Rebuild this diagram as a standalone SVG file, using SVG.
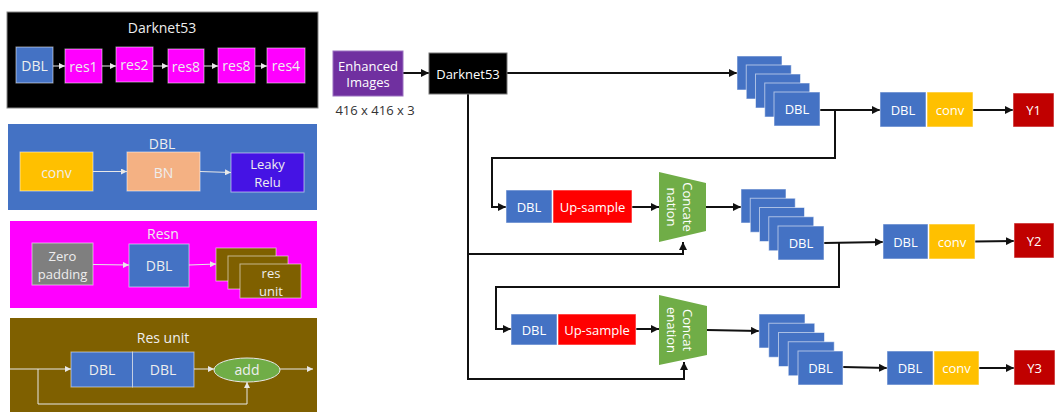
<svg xmlns="http://www.w3.org/2000/svg" width="1055" height="412" viewBox="0 0 1055 412">
  <defs>
    <style>
      text { font-family: "Open Sans", "Liberation Sans", sans-serif; font-size: 13px; fill: #ffffff; text-anchor: middle; dominant-baseline: central; }
      .title { font-size: 14px; fill: #eeeeee; }
      .panel-txt { font-size: 14px; fill: #eeeeee; }
      .panel-2l { font-size: 13px; fill: #eeeeee; }
      .dim { fill: #333333; font-size: 13px; }
      .box { stroke: #ffffff; stroke-opacity: 0.55; stroke-width: 1; }
      .blue { fill: #4472C4; }
      .mag { fill: #FF00FF; }
      .yellow { fill: #FFC000; }
      .salmon { fill: #F4B183; }
      .violet { fill: #4513E4; }
      .gray { fill: #7F7F7F; }
      .olive { fill: #7F6000; }
      .green { fill: #70AD47; }
      .red { fill: #FF0000; }
      .dred { fill: #C00000; }
      .wire { fill: none; stroke: #111111; stroke-width: 2; }
      .lwire { fill: none; stroke: #e8e8e8; stroke-width: 1; }
    </style>
    <marker id="ah" viewBox="0 0 10 10" refX="10" refY="5" markerWidth="8" markerHeight="8" markerUnits="userSpaceOnUse" orient="auto">
      <path d="M0,0 L10,5 L0,10 z" fill="#111111"/>
    </marker>
    <marker id="lah" viewBox="0 0 10 10" refX="10" refY="5" markerWidth="6" markerHeight="6" markerUnits="userSpaceOnUse" orient="auto">
      <path d="M0,0 L10,5 L0,10 z" fill="#e8e8e8"/>
    </marker>
  </defs>

  <!-- Legend panel: Darknet53 -->
  <g id="panel-darknet53">
    <rect x="7" y="12" width="311" height="96" fill="#000000" stroke="#888" stroke-width="1"/>
    <text class="title" x="162" y="27">Darknet53</text>
    <rect class="box blue" x="16" y="47" width="37" height="36"/>
    <text class="panel-txt" x="34.5" y="65">DBL</text>
    <rect class="box mag" x="65" y="49" width="37" height="34"/>
    <text class="panel-txt" x="83.5" y="66">res1</text>
    <rect class="box mag" x="116" y="47" width="37" height="35"/>
    <text class="panel-txt" x="134.5" y="64.5">res2</text>
    <rect class="box mag" x="168" y="49" width="36" height="34"/>
    <text class="panel-txt" x="186" y="66">res8</text>
    <rect class="box mag" x="218" y="48" width="37" height="35"/>
    <text class="panel-txt" x="236.5" y="65.5">res8</text>
    <rect class="box mag" x="267" y="48" width="38" height="35"/>
    <text class="panel-txt" x="286" y="65.5">res4</text>
    <g>
      <line class="lwire" x1="53" y1="66" x2="65" y2="66" marker-end="url(#lah)"/>
      <line class="lwire" x1="102" y1="66" x2="116" y2="66" marker-end="url(#lah)"/>
      <line class="lwire" x1="153" y1="66" x2="168" y2="66" marker-end="url(#lah)"/>
      <line class="lwire" x1="204" y1="66" x2="218" y2="66" marker-end="url(#lah)"/>
      <line class="lwire" x1="255" y1="66" x2="267" y2="66" marker-end="url(#lah)"/>
    </g>
  </g>

  <!-- Legend panel: DBL -->
  <g id="panel-dbl">
    <rect x="8" y="124" width="309" height="86" fill="#4472C4"/>
    <text class="title" x="162" y="143">DBL</text>
    <rect class="box yellow" x="20" y="152" width="73" height="39"/>
    <text class="panel-txt" x="56.5" y="172">conv</text>
    <rect class="box salmon" x="127" y="152" width="73" height="39"/>
    <text class="panel-txt" x="163.5" y="172">BN</text>
    <rect class="box violet" x="231" y="153" width="73" height="39"/>
    <text class="panel-2l" x="267.5" y="164">Leaky</text>
    <text class="panel-2l" x="267.5" y="182">Relu</text>
    <g>
      <line class="lwire" x1="93" y1="171.5" x2="127" y2="171.5" marker-end="url(#lah)"/>
      <line class="lwire" x1="200" y1="171.5" x2="231" y2="172.5" marker-end="url(#lah)"/>
    </g>
  </g>

  <!-- Legend panel: Resn -->
  <g id="panel-resn">
    <rect x="10" y="221" width="307" height="87" fill="#FF00FF"/>
    <text class="title" x="163" y="233">Resn</text>
    <rect class="box gray" x="32" y="243" width="61" height="42"/>
    <text class="panel-2l" x="62.5" y="256">Zero</text>
    <text class="panel-2l" x="62.5" y="274">padding</text>
    <rect class="box blue" x="129" y="244" width="60" height="43"/>
    <text class="panel-txt" x="159" y="265">DBL</text>
    <rect class="box olive" x="216" y="248" width="60" height="33"/>
    <rect class="box olive" x="228" y="256" width="60" height="33"/>
    <rect class="box olive" x="240" y="264" width="61" height="34"/>
    <text class="panel-2l" x="271" y="273">res</text>
    <text class="panel-2l" x="271" y="291">unit</text>
    <g>
      <line class="lwire" x1="93" y1="264.5" x2="129" y2="265" marker-end="url(#lah)"/>
      <line class="lwire" x1="189" y1="265" x2="216" y2="264" marker-end="url(#lah)"/>
    </g>
  </g>

  <!-- Legend panel: Res unit -->
  <g id="panel-resunit">
    <rect x="10" y="318" width="307" height="94" fill="#7F6000"/>
    <text class="title" x="163" y="337">Res unit</text>
    <rect class="box blue" x="71" y="352" width="61.5" height="35"/>
    <rect class="box blue" x="132.5" y="352" width="61.5" height="35"/>
    <text class="panel-txt" x="102" y="369.5">DBL</text>
    <text class="panel-txt" x="163" y="369.5">DBL</text>
    <ellipse class="green" cx="247" cy="370" rx="33" ry="12" stroke="#e8e8e8" stroke-width="1"/>
    <text class="panel-txt" x="247" y="369.5">add</text>
    <g>
      <line class="lwire" x1="10" y1="369" x2="71" y2="369" marker-end="url(#lah)"/>
      <polyline class="lwire" points="38,369 38,404 247,404 247,382" marker-end="url(#lah)"/>
      <line class="lwire" x1="194" y1="369" x2="214" y2="369" marker-end="url(#lah)"/>
      <line class="lwire" x1="280" y1="369" x2="313" y2="369" marker-end="url(#lah)"/>
    </g>
  </g>

  <!-- Main pipeline: connectors -->
  <g id="connectors">
    <line class="wire" x1="403" y1="73" x2="429" y2="73" marker-end="url(#ah)"/>
    <line class="wire" x1="507" y1="73" x2="737" y2="73" marker-end="url(#ah)"/>
    <!-- skip path from the backbone to both concatenations -->
    <polyline class="wire" points="468,94 468,379 684,379 684,362" marker-end="url(#ah)"/>
    <polyline class="wire" points="468,254 683,254 683,242" marker-end="url(#ah)"/>
    <!-- scale 1 -->
    <line class="wire" x1="820" y1="110" x2="880" y2="110" marker-end="url(#ah)"/>
    <polyline class="wire" points="835,110 835,158 492,158 492,207 506,207" marker-end="url(#ah)"/>
    <line class="wire" x1="973" y1="110" x2="1013" y2="110" marker-end="url(#ah)"/>
    <!-- scale 2 -->
    <line class="wire" x1="632" y1="207" x2="659" y2="207" marker-end="url(#ah)"/>
    <line class="wire" x1="706" y1="207" x2="741" y2="207" marker-end="url(#ah)"/>
    <line class="wire" x1="824" y1="243" x2="883" y2="242" marker-end="url(#ah)"/>
    <polyline class="wire" points="839,243 839,287 496,287 496,329 511,329" marker-end="url(#ah)"/>
    <line class="wire" x1="975" y1="241.5" x2="1014" y2="241" marker-end="url(#ah)"/>
    <!-- scale 3 -->
    <line class="wire" x1="636" y1="329" x2="659" y2="329" marker-end="url(#ah)"/>
    <line class="wire" x1="707" y1="330" x2="759" y2="331" marker-end="url(#ah)"/>
    <line class="wire" x1="843" y1="367" x2="887" y2="368" marker-end="url(#ah)"/>
    <line class="wire" x1="979" y1="368" x2="1014" y2="368" marker-end="url(#ah)"/>
  </g>

  <!-- Input -->
  <g id="input">
    <rect x="333" y="51" width="70" height="45" fill="#7030A0" stroke="#9a70c0" stroke-width="1"/>
    <text x="368" y="65.5">Enhanced</text>
    <text x="368" y="82">Images</text>
    <text class="dim" x="375" y="110">416 x 416 x 3</text>
  </g>

  <g id="backbone">
    <rect x="429" y="53" width="78" height="41" fill="#000000" stroke="#777" stroke-width="1"/>
    <text x="468" y="73.5">Darknet53</text>
  </g>

  <!-- DBL stacks -->
  <g id="stack1">
    <rect class="box blue" x="737" y="56" width="45" height="34"/>
    <rect class="box blue" x="746.25" y="65" width="45" height="34"/>
    <rect class="box blue" x="755.5" y="74" width="45" height="34"/>
    <rect class="box blue" x="764.75" y="83" width="45" height="34"/>
    <rect class="box blue" x="774" y="92" width="46" height="34"/>
    <text x="797" y="109">DBL</text>
  </g>
  <g id="stack2">
    <rect class="box blue" x="741" y="189" width="45" height="34"/>
    <rect class="box blue" x="750.25" y="198.25" width="45" height="34"/>
    <rect class="box blue" x="759.5" y="207.5" width="45" height="34"/>
    <rect class="box blue" x="768.75" y="216.75" width="45" height="34"/>
    <rect class="box blue" x="778" y="226" width="46" height="34"/>
    <text x="801" y="243">DBL</text>
  </g>
  <g id="stack3">
    <rect class="box blue" x="759" y="314" width="46" height="34"/>
    <rect class="box blue" x="768.75" y="323.25" width="46" height="34"/>
    <rect class="box blue" x="778.5" y="332.5" width="46" height="34"/>
    <rect class="box blue" x="788.25" y="341.75" width="46" height="34"/>
    <rect class="box blue" x="798" y="351" width="45" height="34"/>
    <text x="820.5" y="368">DBL</text>
  </g>

  <!-- Heads -->
  <g id="head1">
    <rect class="box blue" x="880" y="92" width="46" height="35"/>
    <text x="903" y="109.5">DBL</text>
    <rect class="box yellow" x="927" y="92" width="46" height="35"/>
    <text x="950" y="109.5">conv</text>
  </g>
  <g id="y1">
    <rect class="box dred" x="1013" y="93" width="41" height="34"/>
    <text x="1033.5" y="110">Y1</text>
  </g>
  <g id="head2">
    <rect class="box blue" x="883" y="224" width="45" height="35"/>
    <text x="905.5" y="241.5">DBL</text>
    <rect class="box yellow" x="929" y="224" width="46" height="35"/>
    <text x="952" y="241.5">conv</text>
  </g>
  <g id="y2">
    <rect class="box dred" x="1014" y="223" width="40" height="35"/>
    <text x="1034" y="240.5">Y2</text>
  </g>
  <g id="head3">
    <rect class="box blue" x="887" y="351" width="46" height="34"/>
    <text x="910" y="368">DBL</text>
    <rect class="box yellow" x="934" y="351" width="45" height="34"/>
    <text x="956.5" y="368">conv</text>
  </g>
  <g id="y3">
    <rect class="box dred" x="1014" y="350" width="41" height="35"/>
    <text x="1034.5" y="367.5">Y3</text>
  </g>

  <!-- Upsampling branches -->
  <g id="upsample1">
    <rect class="box blue" x="506" y="190" width="46" height="33"/>
    <text x="529" y="206.5">DBL</text>
    <rect class="box red" x="553" y="190" width="79" height="33"/>
    <text x="592.5" y="206.5">Up-sample</text>
  </g>
  <g id="upsample2">
    <rect class="box blue" x="511" y="314" width="46" height="31"/>
    <text x="534" y="329.5">DBL</text>
    <rect class="box red" x="558" y="314" width="78" height="31"/>
    <text x="597" y="329.5">Up-sample</text>
  </g>

  <!-- Concatenation blocks -->
  <g id="concat1">
    <polygon class="green" points="659,172 706,183 706,231 659,242"/>
    <g transform="translate(680,207) rotate(90)">
      <text x="0" y="-8">Concate</text>
      <text x="0" y="8">nation</text>
    </g>
  </g>
  <g id="concat2">
    <polygon class="green" points="659,295 707,306 707,355 659,365"/>
    <g transform="translate(680,330) rotate(90)">
      <text x="0" y="-8">Concat</text>
      <text x="0" y="8">enation</text>
    </g>
  </g>
</svg>
